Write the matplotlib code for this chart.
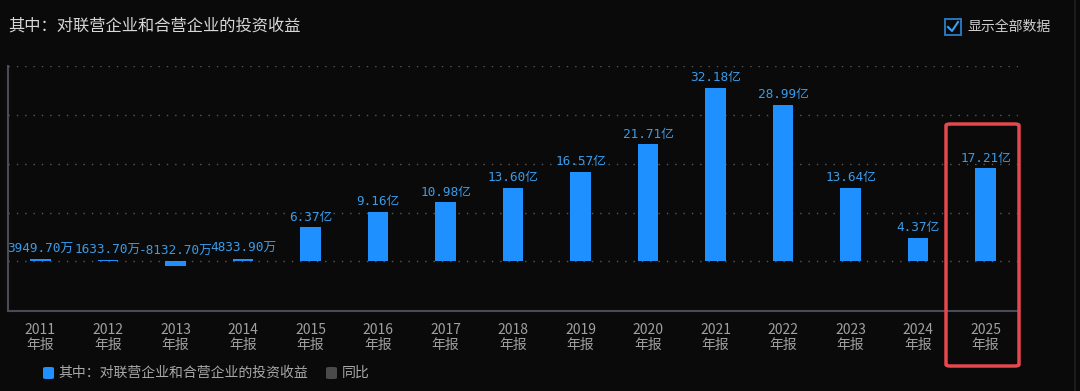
"""Dark-theme annual bar chart: investment income from associates and JVs."""

import matplotlib

matplotlib.use("Agg")
import matplotlib.pyplot as plt
from matplotlib.lines import Line2D
from matplotlib.patches import FancyBboxPatch, Rectangle

plt.rcParams["font.family"] = ["Noto Sans CJK SC", "DejaVu Sans"]

YEARS = ["2011", "2012", "2013", "2014", "2015", "2016", "2017", "2018",
         "2019", "2020", "2021", "2022", "2023", "2024", "2025"]
# values in 亿 (hundred million)
VALUES = [0.394970, 0.163370, -0.813270, 0.483390, 6.37, 9.16, 10.98, 13.60,
          16.57, 21.71, 32.18, 28.99, 13.64, 4.37, 17.21]
LABELS = ["3949.70万", "1633.70万", "-8132.70万", "4833.90万", "6.37亿", "9.16亿",
          "10.98亿", "13.60亿", "16.57亿", "21.71亿", "32.18亿", "28.99亿",
          "13.64亿", "4.37亿", "17.21亿"]
GRID_STEP = 9.05

BG = "#0a0a0a"
BAR = "#1e90ff"
LABEL = "#3a9be8"
TICK = "#a0a0a0"
AXIS = "#4a4a58"
RED = "#e5484d"

W, H = 1080, 391


def fx(px):
    return px / W


def fy(py):
    return 1 - py / H


fig = plt.figure(figsize=(W / 100, H / 100), dpi=100, facecolor=BG)

ax = fig.add_axes([fx(8), fy(311), fx(1018) - fx(8), fy(66) - fy(311)])
ax.set_facecolor(BG)
x = list(range(len(YEARS)))
ax.bar(x, VALUES, width=0.3, color=BAR, zorder=3)
ax.set_xlim(-0.48, len(YEARS) - 0.52)
ax.set_ylim(-9.2, 4 * GRID_STEP)

for k in range(5):
    ax.axhline(k * GRID_STEP, color="#5a5a5a", linewidth=1.0,
               linestyle=(0, (1, 5)), zorder=1)

for xi, v, lab in zip(x, VALUES, LABELS):
    ax.annotate(lab, (xi, max(v, 0)), xytext=(0, 2.5), textcoords="offset points",
                ha="center", va="bottom", color=LABEL, fontsize=9.2,
                family=["DejaVu Sans Mono", "Noto Sans CJK SC"], zorder=4)

for side in ("top", "right"):
    ax.spines[side].set_visible(False)
for side in ("left", "bottom"):
    ax.spines[side].set_color(AXIS)
    ax.spines[side].set_linewidth(1.5)
ax.set_yticks([])
ax.set_xticks(x)
ax.set_xticklabels([f"{y}\n年报" for y in YEARS], color=TICK, fontsize=10,
                   linespacing=1.0)
ax.tick_params(axis="x", length=0, pad=9)

# title
fig.text(fx(8), fy(26), "其中：对联营企业和合营企业的投资收益", color="#d8d8d8",
         fontsize=11.7, va="center", ha="left")

# checkbox
fig.add_artist(Rectangle((fx(945), fy(35)), fx(16), fy(19) - fy(35),
                         transform=fig.transFigure, fill=False,
                         edgecolor="#2a7fd0", linewidth=1.3))
fig.add_artist(Line2D([fx(948), fx(952), fx(958)], [fy(27), fy(31), fy(22)],
                      transform=fig.transFigure, color="#3aa0f0", linewidth=1.5))
fig.text(fx(967), fy(27), "显示全部数据", color="#cfcfcf", fontsize=10,
         va="center", ha="left")

# legend
fig.add_artist(FancyBboxPatch((fx(43), fy(379)), fx(11), fy(367) - fy(379),
                              boxstyle="round,pad=0,rounding_size=0.003",
                              transform=fig.transFigure, facecolor=BAR,
                              edgecolor="none"))
fig.text(fx(58), fy(373), "其中：对联营企业和合营企业的投资收益", color="#a8a8a8",
         fontsize=10, va="center", ha="left")
fig.add_artist(FancyBboxPatch((fx(326), fy(379)), fx(11), fy(367) - fy(379),
                              boxstyle="round,pad=0,rounding_size=0.003",
                              transform=fig.transFigure, facecolor="#4a4a4a",
                              edgecolor="none"))
fig.text(fx(342), fy(373), "同比", color="#a8a8a8", fontsize=10,
         va="center", ha="left")

# highlight box around the latest year
fig.add_artist(FancyBboxPatch((fx(946), fy(366)), fx(1019) - fx(946),
                              fy(124) - fy(366),
                              boxstyle="round,pad=0,rounding_size=0.004",
                              transform=fig.transFigure, fill=False,
                              edgecolor=RED, linewidth=2.5))

# faint panel edge on the right
fig.add_artist(Line2D([fx(1075), fx(1075)], [0, 1], transform=fig.transFigure,
                      color="#1c1c1c", linewidth=1.5))

fig.savefig("out.png", dpi=100, facecolor=BG)
